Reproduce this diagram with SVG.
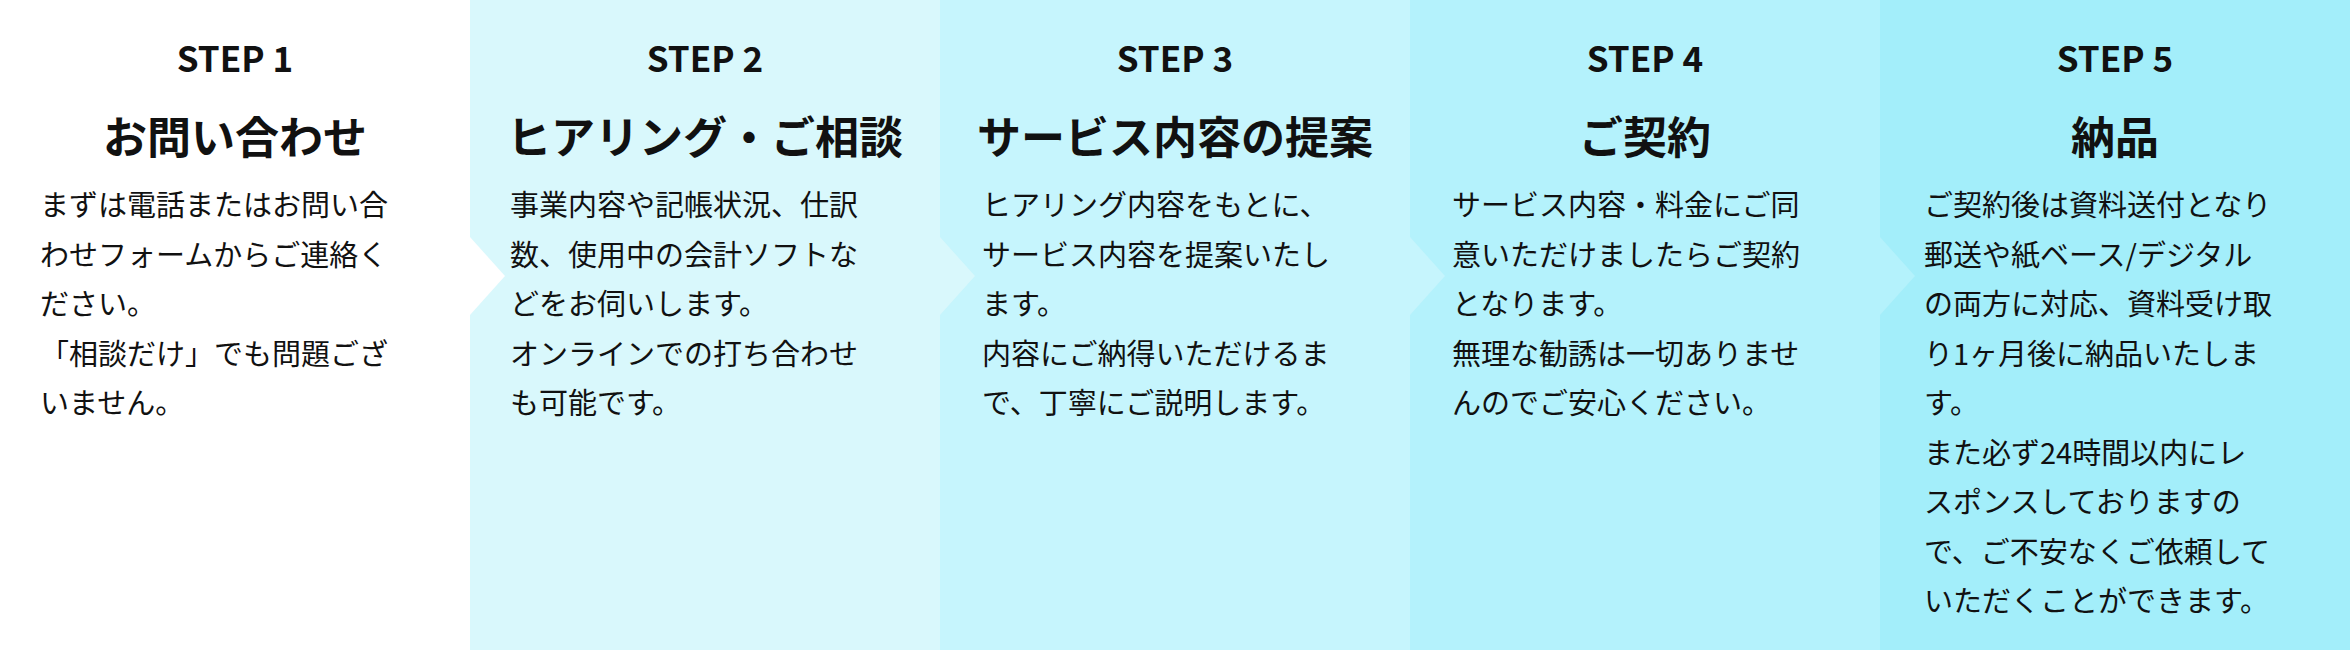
<svg xmlns="http://www.w3.org/2000/svg" width="2350" height="650" viewBox="0 0 2350 650">
<style>
text{font-family:"Noto Sans CJK JP","Noto Sans",sans-serif;fill:#111}
.s{font-size:35px;font-weight:700;text-anchor:middle}
.t{font-size:44px;font-weight:700;text-anchor:middle}
.b{font-size:29px}
</style>
<rect width="2350" height="650" fill="#fff"/>
<g id="step1"><rect x="0" y="0" width="470" height="650" fill="#ffffff"/>
<text class="s" x="235" y="72">STEP 1</text><text class="t" x="235" y="154">お問い合わせ</text>
<text class="b" x="40" y="216">まずは電話またはお問い合</text><text class="b" x="40" y="266">わせフォームからご連絡く</text><text class="b" x="40" y="315">ださい。</text><text class="b" x="40" y="365">「相談だけ」でも問題ござ</text><text class="b" x="40" y="414">いません。</text></g>
<g id="step2"><rect x="470" y="0" width="470" height="650" fill="#d9f8fc"/><polygon points="470,237 505,276 470,315" fill="#ffffff"/>
<text class="s" x="705" y="72">STEP 2</text><text class="t" x="705" y="154">ヒアリング・ご相談</text>
<text class="b" x="510" y="216">事業内容や記帳状況、仕訳</text><text class="b" x="510" y="266">数、使用中の会計ソフトな</text><text class="b" x="510" y="315">どをお伺いします。</text><text class="b" x="510" y="365">オンラインでの打ち合わせ</text><text class="b" x="510" y="414">も可能です。</text></g>
<g id="step3"><rect x="940" y="0" width="470" height="650" fill="#c6f5fd"/><polygon points="940,237 975,276 940,315" fill="#d9f8fc"/>
<text class="s" x="1175" y="72">STEP 3</text><text class="t" x="1175" y="154">サービス内容の提案</text>
<text class="b" x="982" y="216">ヒアリング内容をもとに、</text><text class="b" x="982" y="266">サービス内容を提案いたし</text><text class="b" x="982" y="315">ます。</text><text class="b" x="982" y="365">内容にご納得いただけるま</text><text class="b" x="982" y="414">で、丁寧にご説明します。</text></g>
<g id="step4"><rect x="1410" y="0" width="470" height="650" fill="#b4f2fc"/><polygon points="1410,237 1445,276 1410,315" fill="#c6f5fd"/>
<text class="s" x="1645" y="72">STEP 4</text><text class="t" x="1645" y="154">ご契約</text>
<text class="b" x="1452" y="216">サービス内容・料金にご同</text><text class="b" x="1452" y="266">意いただけましたらご契約</text><text class="b" x="1452" y="315">となります。</text><text class="b" x="1452" y="365">無理な勧誘は一切ありませ</text><text class="b" x="1452" y="414">んのでご安心ください。</text></g>
<g id="step5"><rect x="1880" y="0" width="470" height="650" fill="#a3eefa"/><polygon points="1880,237 1915,276 1880,315" fill="#b4f2fc"/>
<text class="s" x="2115" y="72">STEP 5</text><text class="t" x="2115" y="154">納品</text>
<text class="b" x="1924" y="216">ご契約後は資料送付となり</text><text class="b" x="1924" y="266">郵送や紙ベース/デジタル</text><text class="b" x="1924" y="315">の両方に対応、資料受け取</text><text class="b" x="1924" y="365">り1ヶ月後に納品いたしま</text><text class="b" x="1924" y="414">す。</text><text class="b" x="1924" y="464">また必ず24時間以内にレ</text><text class="b" x="1924" y="513">スポンスしておりますの</text><text class="b" x="1924" y="563">で、ご不安なくご依頼して</text><text class="b" x="1924" y="612">いただくことができます。</text></g>
<g id="connectors"></g>
</svg>
